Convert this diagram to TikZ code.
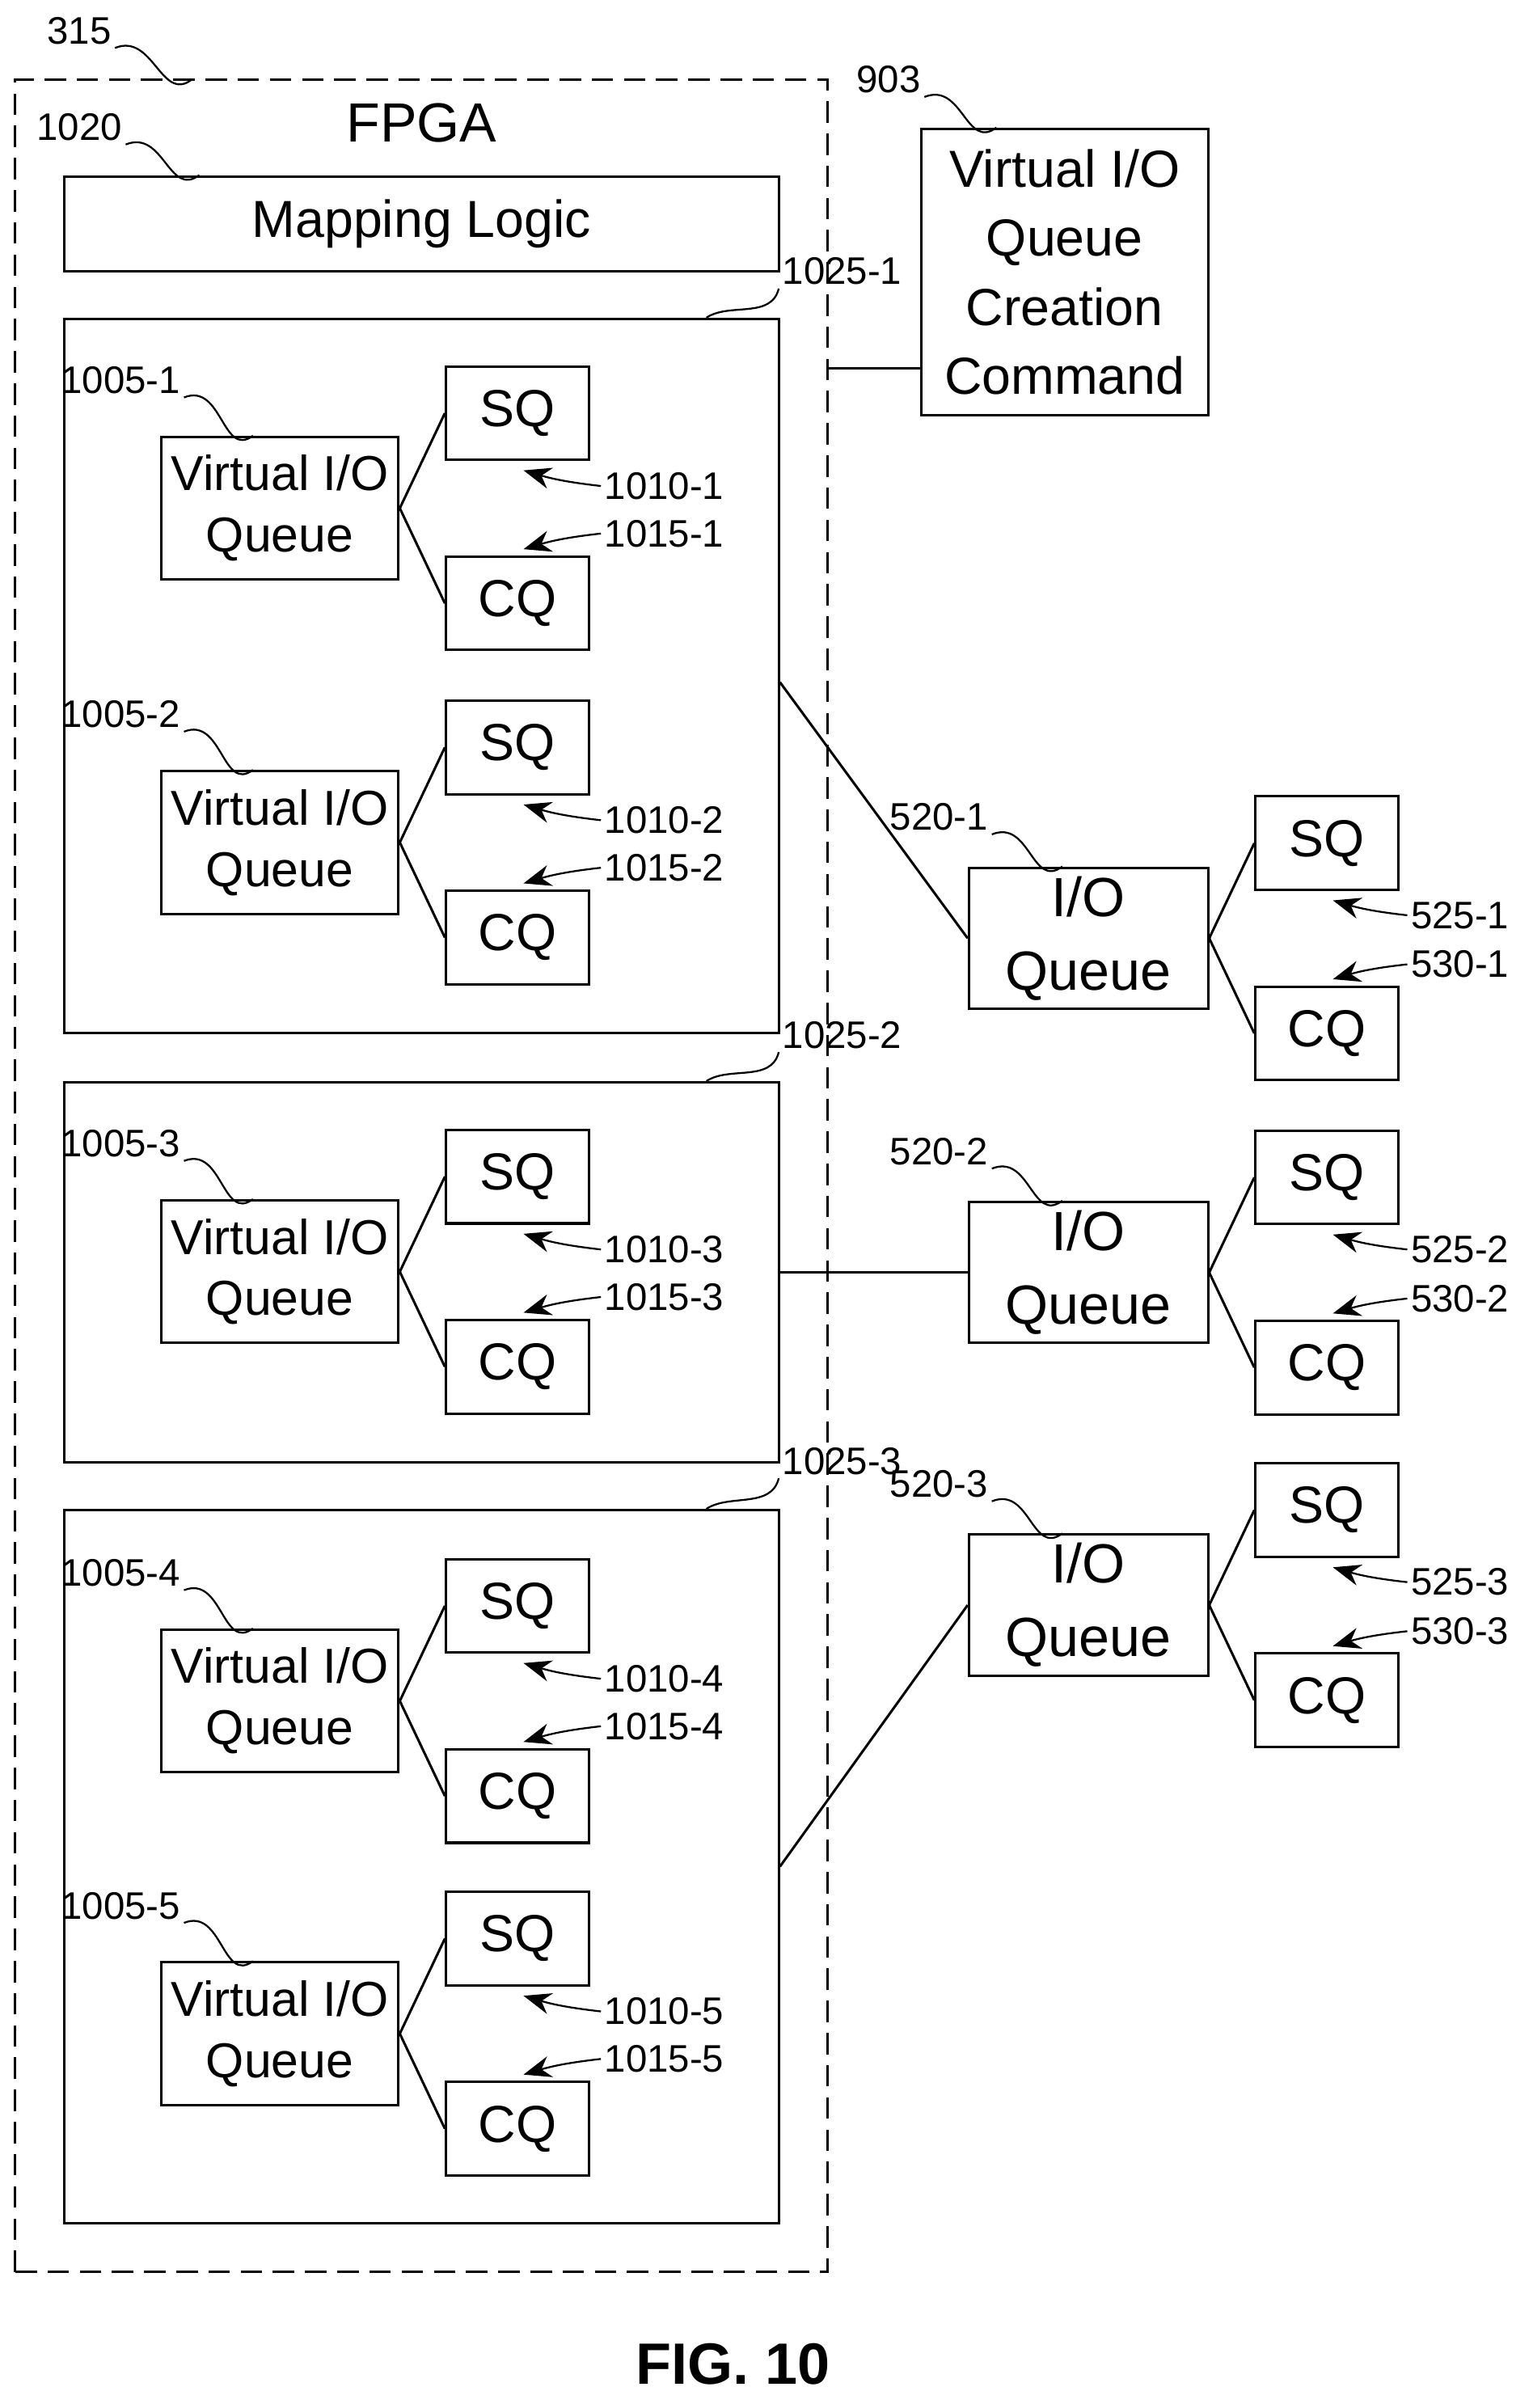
\documentclass[tikz,border=0pt]{standalone}
\usepackage{fontspec}
\setmainfont{Liberation Sans}
\usetikzlibrary{arrows.meta}

\tikzset{
  box/.style={draw=black, line width=0.8pt, inner sep=0pt, align=center},
  vq/.style={box, minimum width=77.5pt, minimum height=46.5pt, font=\fontsize{16}{20}\selectfont},
  q/.style={box, minimum width=46.5pt, minimum height=30.5pt, font=\fontsize{17}{20}\selectfont},
  ioq/.style={box, minimum width=78pt, minimum height=46pt, font=\fontsize{18}{24}\selectfont},
  lbl/.style={inner sep=1pt, font=\fontsize{12.5}{14}\selectfont},
  lead/.style={line width=0.6pt},
  ptr/.style={line width=0.6pt, -{Stealth[length=9pt,width=7pt]}},
  link/.style={line width=0.8pt}
}

\begin{document}
\begin{tikzpicture}[x=0.5pt, y=-0.5pt]
\useasboundingbox (0,0) rectangle (1000,1570.7);

% FPGA and fixed parts
\node[draw, dash pattern=on 7pt off 3.5pt, line width=0.8pt, minimum width=265pt, minimum height=715pt] (fpga) at (275,767) {};
\node[font=\fontsize{18}{20}\selectfont] (fpgat) at (275,80) {FPGA};
\node[lbl, anchor=east] (l315) at (75,20) {315};
\draw[lead] (l315.south east) .. controls +(25,-10) and +(-20,15) .. (125,52);

\node[box, minimum width=233pt, minimum height=31pt, font=\fontsize{17}{20}\selectfont] (map) at (275,146) {Mapping Logic};
\node[lbl, anchor=east] (l1020) at (82,83) {1020};
\draw[lead] (l1020.south east) .. controls +(25,-10) and +(-20,15) .. (map.north west -| 130,0);

\node[box, minimum width=93.5pt, minimum height=93.5pt, font=\fontsize{17}{22.5}\selectfont] (cmd) at (694.5,177.5) {Virtual I/O\\Queue\\Creation\\Command};
\node[lbl, anchor=east] (l903) at (603,52) {903};
\draw[lead] (l903.south east) .. controls +(25,-10) and +(-20,15) .. (cmd.north west -| 650,0);
\coordinate (fp) at (540,240);
\draw[link] (fp) -- (cmd.west |- fp);

% groups
\node[box, minimum width=233pt, minimum height=233pt] (g1) at (275,441) {};
\node[box, minimum width=233pt, minimum height=124pt] (g2) at (275,830) {};
\node[box, minimum width=233pt, minimum height=232.5pt] (g3) at (275,1217.5) {};
\foreach \g/\y in {1/177, 2/675, 3/953} {
  \node[lbl, anchor=west] (lg\g) at (508,\y) {1025-\g};
  \draw[lead] (lg\g.south west) .. controls +(-5,20) and +(15,-10) .. ([xshift=-24pt]g\g.north east);
}

% virtual queues
\foreach \n/\y in {1/331.5, 2/549.5, 3/829.5, 4/1109.5, 5/1326.5} {
  \node[vq] (vq\n) at (182.5,\y) {Virtual I/O\\Queue};
  \node[q] (vsq\n) at (337.5,\y-62) {SQ};
  \node[q] (vcq\n) at (337.5,\y+62) {CQ};
  \draw[link] (vq\n.east) -- (vsq\n.west);
  \draw[link] (vq\n.east) -- (vcq\n.west);
  \node[lbl, anchor=east] (lv\n) at (120,\y-83.5) {1005-\n};
  \draw[lead] (lv\n.south east) .. controls +(25,-10) and +(-20,15) .. ([xshift=-8.75pt]vq\n.north);
  \node[lbl, anchor=west] (ls\n) at (392,\y-14.5) {1010-\n};
  \draw[ptr] (ls\n.west) to[bend left=5] ([xshift=2pt,yshift=-3pt]vsq\n.south);
  \node[lbl, anchor=west] (lc\n) at (392,\y+16.5) {1015-\n};
  \draw[ptr] (lc\n.west) to[bend right=5] ([xshift=2pt,yshift=2pt]vcq\n.north);
}

% host queues
\foreach \n/\y in {1/612, 2/830, 3/1047} {
  \node[ioq] (io\n) at (710,\y) {I/O\\Queue};
  \node[q] (hsq\n) at (865.5,\y-62) {SQ};
  \node[q] (hcq\n) at (865.5,\y+62) {CQ};
  \draw[link] (io\n.east) -- (hsq\n.west);
  \draw[link] (io\n.east) -- (hcq\n.west);
  \node[lbl, anchor=east] (li\n) at (647,\y-79) {520-\n};
  \draw[lead] (li\n.south east) .. controls +(25,-10) and +(-20,15) .. ([xshift=-8.5pt]io\n.north);
  \node[lbl, anchor=west] (lhs\n) at (918,\y-15) {525-\n};
  \draw[ptr] (lhs\n.west) to[bend left=5] ([xshift=2pt,yshift=-3pt]hsq\n.south);
  \node[lbl, anchor=west] (lhc\n) at (918,\y+17) {530-\n};
  \draw[ptr] (lhc\n.west) to[bend right=5] ([xshift=2pt,yshift=2pt]hcq\n.north);
}

% links
\draw[link] (g1.east |- 0,445) -- (io1.west);
\draw[link] (g2.east) -- (io2.west);
\draw[link] (g3.east) -- (io3.west);

\node[font=\bfseries\fontsize{19}{22}\selectfont] (fig) at (478,1542) {FIG. 10};
\end{tikzpicture}
\end{document}
